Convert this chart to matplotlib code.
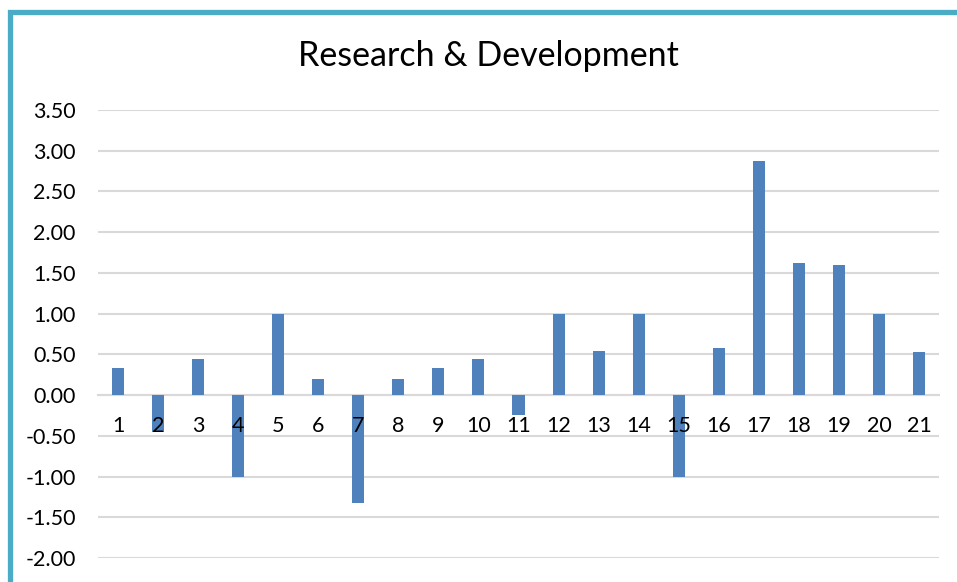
import matplotlib
matplotlib.use("Agg")
import matplotlib.pyplot as plt
from matplotlib.patches import Rectangle

categories = [str(i) for i in range(1, 22)]
values = [0.33, -0.45, 0.44, -1.00, 1.00, 0.20, -1.33, 0.20, 0.33, 0.44,
          -0.25, 1.00, 0.54, 1.00, -1.00, 0.58, 2.87, 1.62, 1.60, 1.00, 0.53]
yticks = [-2.0, -1.5, -1.0, -0.5, 0.0, 0.5, 1.0, 1.5, 2.0, 2.5, 3.0, 3.5]
title = "Research & Development"

plt.rcParams['font.family'] = ['Lato', 'DejaVu Sans']

W, H = 957, 582
fig = plt.figure(figsize=(W / 100, H / 100), dpi=100)
fig.patch.set_facecolor('white')

# teal frame (extends beyond right and bottom edges)
fig.patches.append(Rectangle((9.5 / W, -0.2), 1.3, 1.2 - 12 / H,
                             transform=fig.transFigure, fill=False,
                             edgecolor='#4BACC6', linewidth=3.8))

ax = fig.add_axes([98 / W, 1 - 558 / H, (939 - 98) / W, (558 - 110) / H])
x = list(range(1, len(categories) + 1))
ax.bar(x, values, width=0.3, color='#4F81BD', zorder=2)

ax.set_xlim(0.5, len(categories) + 0.5)
ax.set_ylim(-2.0, 3.5)
ax.set_yticks(yticks)
ax.set_yticklabels([f"{v:.2f}" for v in yticks])
ax.yaxis.grid(True, color='#D9D9D9', linewidth=1.5)
ax.set_axisbelow(True)

ax.set_xticks(x)
ax.set_xticklabels(categories)
for s in ['top', 'right', 'left']:
    ax.spines[s].set_visible(False)
ax.spines['bottom'].set_position(('data', 0))
ax.spines['bottom'].set_color('#D9D9D9')
ax.spines['bottom'].set_linewidth(1.5)
ax.spines['bottom'].set_zorder(1)
ax.xaxis.set_zorder(5)
ax.tick_params(axis='x', length=0, pad=15, labelsize=15.5, labelcolor='black')
ax.tick_params(axis='y', length=0, pad=16, labelsize=15.5, labelcolor='black')

fig.text(488 / W, 1 - 56 / H, title, ha='center', va='center', fontsize=24.5,
         color='black')

fig.savefig('out.png', dpi=100)
